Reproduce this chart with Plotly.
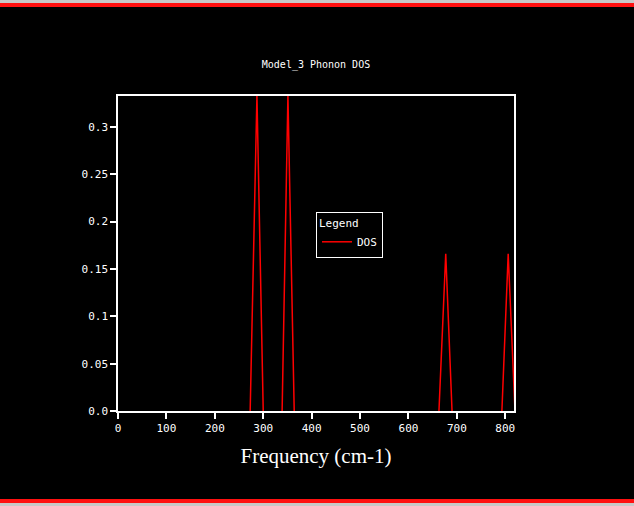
import plotly.graph_objects as go

# Phonon DOS (triangular peaks on a coarse grid),
# None splits the peaks so no line is drawn along the baseline
freq = [273, 287, 300, None, 339, 351, 364, None, 663, 677, 690, None, 793, 806, 820]
dos = [0, 0.333, 0, None, 0, 0.333, 0, None, 0, 0.166, 0, None, 0, 0.166, 0]

x_ticks = [0, 100, 200, 300, 400, 500, 600, 700, 800]
y_ticks = [0, 0.05, 0.1, 0.15, 0.2, 0.25, 0.3]
y_tick_text = ["0.0", "0.05", "0.1", "0.15", "0.2", "0.25", "0.3"]

W, H = 634, 506
L, R, T, B = 118, 120, 96, 95
plot_h = H - T - B


def py(pix):
    # pixel row -> paper y
    return (H - B - pix) / plot_h


fig = go.Figure()
fig.add_trace(go.Scatter(x=freq, y=dos, mode="lines", name="DOS",
                         connectgaps=False,
                         line=dict(color="#ff0000", width=1.5)))

mono = "DejaVu Sans Mono"
fig.update_layout(
    width=W, height=H,
    margin=dict(l=L, r=R, t=T, b=B),
    paper_bgcolor="black", plot_bgcolor="black",
    font=dict(family=mono, color="white", size=11),
    title=dict(text="Model_3 Phonon DOS", x=0.5, xref="paper",
               y=1 - 64 / H, yref="container", yanchor="middle",
               font=dict(family=mono, size=10, color="white")),
    showlegend=True,
    legend=dict(title=dict(text="Legend", font=dict(size=11)),
                x=0.5, y=py(212), xanchor="left", yanchor="top",
                bgcolor="black", bordercolor="white", borderwidth=1,
                font=dict(family=mono, size=11, color="white"),
                itemwidth=30, tracegroupgap=0),
)
fig.update_xaxes(range=[0, 818], tickvals=x_ticks, showgrid=False, zeroline=False,
                 showline=True, linecolor="white", linewidth=2, mirror=True,
                 ticks="outside", tickcolor="white", ticklen=6, tickwidth=2,
                 tickfont=dict(family=mono, size=11, color="white"),
                 title=dict(text="Frequency (cm-1)", standoff=14,
                            font=dict(family="Liberation Serif", size=21, color="white")))
fig.update_yaxes(range=[0, 0.3327], tickvals=y_ticks, ticktext=y_tick_text,
                 showgrid=False, zeroline=False,
                 showline=True, linecolor="white", linewidth=1.5, mirror=True,
                 ticks="outside", tickcolor="white", ticklen=6, tickwidth=2,
                 tickfont=dict(family=mono, size=11, color="white"))

# window frame stripes at top and bottom
for y0, y1, col in [(0, 3, "#c8c8c8"), (3, 7, "#ff1010"),
                    (499, 503, "#ff1010"), (503, 506, "#c8c8c8")]:
    fig.add_shape(type="rect", xref="paper", yref="paper",
                  x0=-L / (W - L - R), x1=(W - L) / (W - L - R),
                  y0=py(y1), y1=py(y0), fillcolor=col, line_width=0, layer="above")

fig.write_html("out.html", config={"displayModeBar": False},
               post_script="document.body.style.margin='0';document.body.style.overflow='hidden';")
